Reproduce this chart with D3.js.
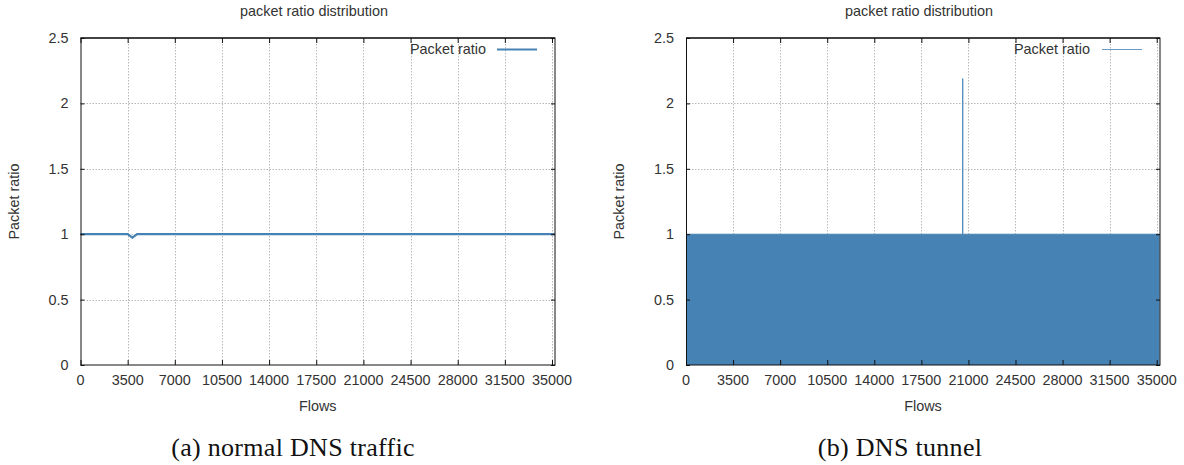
<!DOCTYPE html>
<html>
<head>
<meta charset="utf-8">
<script src="https://cdn.jsdelivr.net/npm/d3@7"></script>
<style>
  html, body { margin: 0; padding: 0; background: #fff; }
  svg { display: block; }
  .tick-label { font-family: "Liberation Sans", Arial, sans-serif; font-size: 14.4px; fill: #333; }
  .caption { font-family: "Liberation Serif", "Times New Roman", serif; font-size: 26px; fill: #111; letter-spacing: 0.3px; }
</style>
</head>
<body>
<svg id="chart" width="1184" height="465"></svg>
<script>
// ---- data ----
const chartTitle = "packet ratio distribution";
const xLabel = "Flows";
const yLabel = "Packet ratio";
const legendLabel = "Packet ratio";
const captions = ["(a) normal DNS traffic", "(b) DNS tunnel"];
const xTicks = [0, 3500, 7000, 10500, 14000, 17500, 21000, 24500, 28000, 31500, 35000];
const yTicks = [0, 0.5, 1, 1.5, 2, 2.5];

// (a) normal DNS traffic: ratio per flow (breakpoints)
const normalFlows = [0, 3500, 3850, 4200, 35220];
const normalRatio = [1, 1, 0.973, 1, 1];

// (b) DNS tunnel: ratios alternate densely between 0 and 1, one spike at ~20576
const tunnelFlows = [0, 20566, 20576, 20586, 35220];
const tunnelRatioMax = [1, 1, 2.19, 1, 1];
const tunnelRatioMin = [0, 0, 0, 0, 0];

const lineColor = "#4682b4";

const svg = d3.select("#chart");

function drawPanel(cfg) {
  const g = svg.append("g");
  const x = d3.scaleLinear().domain([0, cfg.xMax]).range([cfg.left, cfg.right]);
  const y = d3.scaleLinear().domain([0, 2.5]).range([365, 38]);

  // grid
  const grid = g.append("g").attr("stroke", "#b8b8b8").attr("stroke-width", 1).attr("stroke-dasharray", "1.5,1.5");
  grid.selectAll("line.vx").data(xTicks.filter(d => d > 0)).join("line")
    .attr("x1", d => Math.round(x(d)) + 0.5).attr("x2", d => Math.round(x(d)) + 0.5)
    .attr("y1", y(2.5)).attr("y2", y(0));
  grid.selectAll("line.hy").data(yTicks.filter(d => d > 0 && d < 2.5)).join("line")
    .attr("y1", d => Math.round(y(d)) + 0.5).attr("y2", d => Math.round(y(d)) + 0.5)
    .attr("x1", cfg.left).attr("x2", cfg.right);

  // data
  cfg.drawData(g, x, y);

  // border
  g.append("line").attr("x1", cfg.left).attr("x2", cfg.right).attr("y1", y(2.5)).attr("y2", y(2.5))
    .attr("stroke", "#777").attr("stroke-width", 2);
  g.append("rect").attr("x", cfg.left + 0.5).attr("y", y(2.5)).attr("width", cfg.right - cfg.left - 0.5)
    .attr("height", y(0) - y(2.5)).attr("fill", "none").attr("stroke", "#111").attr("stroke-width", 1);

  // axes via d3 axis generators (ticks inward, mirrored)
  const xAxisB = d3.axisBottom(x).tickValues(xTicks).tickSize(-5).tickFormat("");
  const xAxisT = d3.axisTop(x).tickValues(xTicks).tickSize(-5).tickFormat("");
  const yAxisL = d3.axisLeft(y).tickValues(yTicks).tickSize(-4).tickFormat("");
  const yAxisR = d3.axisRight(y).tickValues(yTicks).tickSize(-4).tickFormat("");
  [
    g.append("g").attr("transform", `translate(0,${y(0)})`).call(xAxisB),
    g.append("g").attr("transform", `translate(0,${y(2.5)})`).call(xAxisT),
    g.append("g").attr("transform", `translate(${cfg.left},0)`).call(yAxisL),
    g.append("g").attr("transform", `translate(${cfg.right},0)`).call(yAxisR)
  ].forEach(a => {
    a.select(".domain").remove();
    a.selectAll(".tick line").attr("stroke", "#111");
  });

  // tick labels
  g.selectAll("text.xt").data(xTicks).join("text").attr("class", "tick-label")
    .attr("x", d => x(d)).attr("y", 385).attr("text-anchor", "middle").text(d => d);
  g.selectAll("text.yt").data(yTicks).join("text").attr("class", "tick-label")
    .attr("x", cfg.left - 12).attr("y", d => y(d) + 5).attr("text-anchor", "end").text(d => d);

  // labels
  g.append("text").attr("class", "tick-label").attr("x", cfg.titleX).attr("y", 16)
    .attr("text-anchor", "middle").text(chartTitle);
  g.append("text").attr("class", "tick-label").attr("x", (cfg.left + cfg.right) / 2).attr("y", 411)
    .attr("text-anchor", "middle").text(xLabel);
  g.append("text").attr("class", "tick-label")
    .attr("transform", `translate(${cfg.yLabelX},${(y(0) + y(2.5)) / 2}) rotate(-90)`)
    .attr("text-anchor", "middle").text(yLabel);

  // legend
  g.append("text").attr("class", "tick-label").attr("x", cfg.legendTextRight).attr("y", 54)
    .attr("text-anchor", "end").text(legendLabel);
  g.append("line").attr("x1", cfg.legendLine[0]).attr("x2", cfg.legendLine[1]).attr("y1", 49.5).attr("y2", 49.5)
    .attr("stroke", lineColor).attr("stroke-width", cfg.lineWidth).attr("stroke-opacity", cfg.lineWidth < 2 ? 0.8 : 1);

  // caption
  svg.append("text").attr("class", "caption").attr("x", cfg.captionX).attr("y", 456)
    .attr("text-anchor", "middle").text(cfg.caption);
}

drawPanel({
  left: 80.5, right: 555, xMax: 35223, titleX: 314, yLabelX: 19,
  legendTextRight: 486, legendLine: [497, 537], lineWidth: 2,
  captionX: 293, caption: captions[0],
  drawData: (g, x, y) => {
    const pts = normalFlows.map((f, i) => [f, normalRatio[i]]);
    g.append("path").datum(pts)
      .attr("d", d3.line().x(d => x(d[0])).y(d => y(d[1])))
      .attr("fill", "none").attr("stroke", lineColor).attr("stroke-width", 2.2);
  }
});

drawPanel({
  left: 686, right: 1160, xMax: 35245, titleX: 919, yLabelX: 624,
  legendTextRight: 1090, legendLine: [1102, 1142], lineWidth: 1,
  captionX: 900, caption: captions[1],
  drawData: (g, x, y) => {
    const pts = tunnelFlows.map((f, i) => [f, tunnelRatioMin[i], tunnelRatioMax[i]]);
    g.append("path").datum(pts)
      .attr("d", d3.area().x(d => x(d[0])).y0(d => y(d[1])).y1(d => y(Math.min(d[2], 1))))
      .attr("fill", lineColor);
    g.append("path").datum(pts)
      .attr("d", d3.line().x(d => x(d[0])).y(d => y(d[2])))
      .attr("fill", "none").attr("stroke", lineColor).attr("stroke-width", 1).attr("stroke-opacity", 0.85);
  }
});
</script>
</body>
</html>
